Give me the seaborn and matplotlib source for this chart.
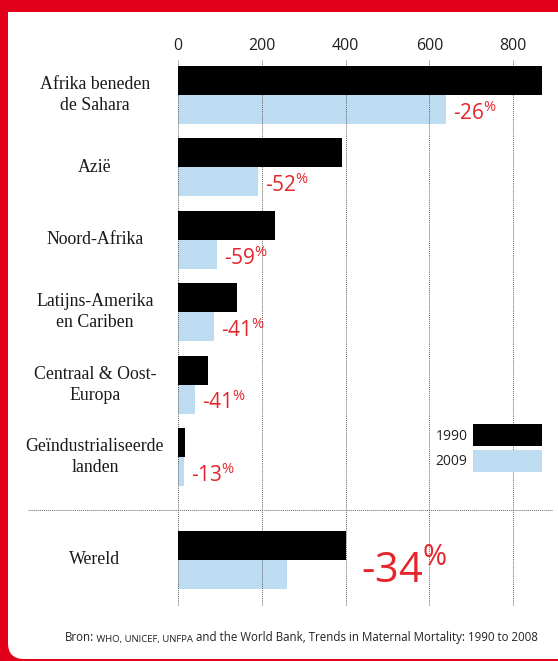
import matplotlib
matplotlib.use("Agg")
import matplotlib.pyplot as plt
import matplotlib.transforms as mtransforms
from matplotlib.patches import FancyBboxPatch, Rectangle
from matplotlib.lines import Line2D
import pandas as pd
import seaborn as sns

# data (maternal deaths per 100.000 births)
regions = [
    "Afrika beneden\nde Sahara",
    "Azië",
    "Noord-Afrika",
    "Latijns-Amerika\nen Cariben",
    "Centraal & Oost-\nEuropa",
    "Geïndustrialiseerde\nlanden",
]
mmr_1990 = [870, 390, 230, 140, 70, 16]
mmr_2009 = [640, 190, 92, 85, 40, 14]
change = [-26, -52, -59, -41, -41, -13]

world_label = "Wereld"
world_1990 = 400
world_2009 = 260
world_change = -34

years = ["1990", "2009"]
xticks = [0, 200, 400, 600, 800]
source_parts = ["Bron:", " WHO, UNICEF, UNFPA",
                " and the World Bank, Trends in Maternal Mortality: 1990 to 2008"]

RED = "#e2001a"
PCT_RED = "#e4262c"
BLUE = "#bddcf1"
GRID = "#666666"
palette = {"1990": "black", "2009": BLUE}

sns.set_style("white")
plt.rcParams["font.family"] = ["Open Sans", "DejaVu Sans"]
plt.rcParams["mathtext.fontset"] = "custom"
plt.rcParams["mathtext.rm"] = "Open Sans"
plt.rcParams["mathtext.default"] = "regular"

W, H = 558, 661
fig = plt.figure(figsize=(W / 100, H / 100), dpi=100, facecolor=RED)

# white card on the red frame
px = mtransforms.IdentityTransform()
fig.patches.append(FancyBboxPatch((8, 2), 600, H - 14,
                                  boxstyle="round,pad=0,rounding_size=16",
                                  fc="white", ec="none", transform=px, zorder=-2))
fig.patches.append(Rectangle((8, H - 12 - 30), 30, 30, fc="white", ec="none",
                             transform=px, zorder=-2))

x0, scale = 178.3, 0.4185
xmax = 870
left = x0 / W
width = xmax * scale / W
ax = fig.add_axes([left, 1 - 510 / H, width, 450 / H])
ax_w = fig.add_axes([left, 1 - 606 / H, width, 96 / H])

df = pd.DataFrame({
    "region": regions * 2,
    "year": ["1990"] * len(regions) + ["2009"] * len(regions),
    "value": mmr_1990 + mmr_2009,
})
df_w = pd.DataFrame({
    "region": [world_label] * 2,
    "year": years,
    "value": [world_1990, world_2009],
})

sns.barplot(data=df, x="value", y="region", hue="year", hue_order=years,
            palette=palette, orient="h", width=0.8, saturation=1,
            errorbar=None, linewidth=0, ax=ax)
sns.barplot(data=df_w, x="value", y="region", hue="year", hue_order=years,
            palette=palette, orient="h", width=0.8, saturation=1,
            errorbar=None, linewidth=0, ax=ax_w, legend=False)

spacing = 72.4
for a, (top, bot, c0) in zip([ax, ax_w], [(60, 510, 95), (510, 606, 560)]):
    a.set_xlim(0, xmax)
    a.set_ylim((bot - c0) / spacing, (top - c0) / spacing)
    a.set_facecolor("none")
    for s in a.spines.values():
        s.set_visible(False)
    a.set_xticks(xticks)
    a.set_yticks([])
    a.set_xlabel("")
    a.set_ylabel("")
    a.grid(axis="x", color=GRID, linestyle=(0, (1, 1)), linewidth=0.7)
    a.grid(axis="y", visible=False)
    a.set_axisbelow("line")
    for bar in a.containers[0]:
        bar.set_zorder(3)

ax.xaxis.tick_top()
ax.tick_params(axis="x", length=0, pad=4, labelsize=11.5, labelcolor="#222222")
ax_w.tick_params(axis="x", length=0, labelbottom=False, labeltop=False)

# region labels
lab_tr = mtransforms.blended_transform_factory(fig.transFigure, ax.transData)
for i, name in enumerate(regions):
    ax.text(95 / W, i, name, transform=lab_tr, ha="center", va="center",
            multialignment="center", fontsize=12.8, linespacing=1.3,
            family="Liberation Serif", color="#1a1a1a")
lab_tr_w = mtransforms.blended_transform_factory(fig.transFigure, ax_w.transData)
ax_w.text(95 / W, 0, world_label, transform=lab_tr_w, ha="center", va="center",
          fontsize=12.8, family="Liberation Serif", color="#1a1a1a")

# percentage change labels
for i, (v, c) in enumerate(zip(mmr_2009, change)):
    ax.annotate(f"{c}$^{{\\%}}$", xy=(v, i + 0.2), xytext=(5, -7.5),
                textcoords="offset points", ha="left", va="baseline",
                color=PCT_RED, fontsize=15)
ax_w.annotate(f"{world_change}$^{{\\%}}$", xy=(world_1990, 0), xytext=(11, -16.5),
              textcoords="offset points", ha="left", va="baseline",
              color=PCT_RED, fontsize=30, annotation_clip=False)

# legend
sns.move_legend(ax, "upper right", bbox_to_anchor=(1.0, (510 - 424) / 450),
                frameon=False, title=None, markerfirst=False,
                handlelength=5.0, handleheight=2.1, handletextpad=0.4,
                labelspacing=0.24, borderaxespad=0, borderpad=0,
                fontsize=10, labelcolor="#222222")

# dotted separator above the world total
fig.add_artist(Line2D([28, 552], [H - 510, H - 510], transform=px,
                      color=GRID, linestyle=(0, (1, 1)), linewidth=0.7))

# source line
prev = ax_w.annotate(source_parts[0], xy=(65 / W, 20 / H), xycoords="figure fraction",
                     ha="left", va="baseline", fontsize=8.3, color="#222222",
                     annotation_clip=False)
for part, size in zip(source_parts[1:], [6.8, 8.3]):
    prev = ax_w.annotate(part, xy=(1, 0), xycoords=prev, ha="left", va="bottom",
                         fontsize=size, color="#222222", annotation_clip=False)

fig.savefig("out.png", dpi=100, facecolor=fig.get_facecolor())
